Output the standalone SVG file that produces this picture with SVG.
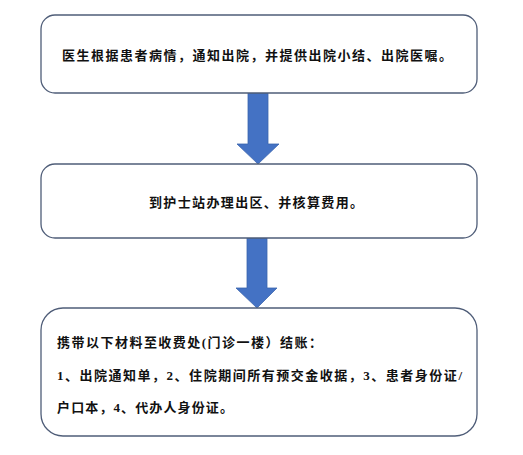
<svg xmlns="http://www.w3.org/2000/svg" width="523" height="455" viewBox="0 0 523 455">
<style>
.box{fill:#ffffff;stroke:#4f5d78;stroke-width:1.3}
.t{font-family:"Liberation Serif","Noto Sans CJK SC",serif;font-size:13px;font-weight:bold;fill:#111111}
.arr{fill:#4472c4;stroke:#3b64ad;stroke-width:0.8}
</style>
<rect width="523" height="455" fill="#ffffff"/>
<g id="connectors">
<polygon class="arr" points="248,93 268,93 268,144 279,144 258,164 237,144 248,144"/>
<polygon class="arr" points="247,238 267,238 267,288 277,288 257,308 236,288 247,288"/>
</g>
<g id="node1">
<rect class="box" x="41" y="15" width="436" height="78" rx="14"/>
<text class="t" x="62" y="60" textLength="390" lengthAdjust="spacing">医生根据患者病情，通知出院，并提供出院小结、出院医嘱。</text>
</g>
<g id="node2">
<rect class="box" x="41" y="164" width="436" height="74" rx="14"/>
<text class="t" x="149" y="207" textLength="214" lengthAdjust="spacing">到护士站办理出区、并核算费用。</text>
</g>
<g id="node3">
<rect class="box" x="41" y="308" width="436" height="128" rx="22"/>
<text class="t" x="57" y="347" textLength="265" lengthAdjust="spacing">携带以下材料至收费处(门诊一楼）结账：</text>
<text class="t" x="57" y="380" textLength="405" lengthAdjust="spacing">1、出院通知单，2、住院期间所有预交金收据，3、患者身份证/</text>
<text class="t" x="57" y="412" textLength="176" lengthAdjust="spacing">户口本，4、代办人身份证。</text>
</g>
</svg>
